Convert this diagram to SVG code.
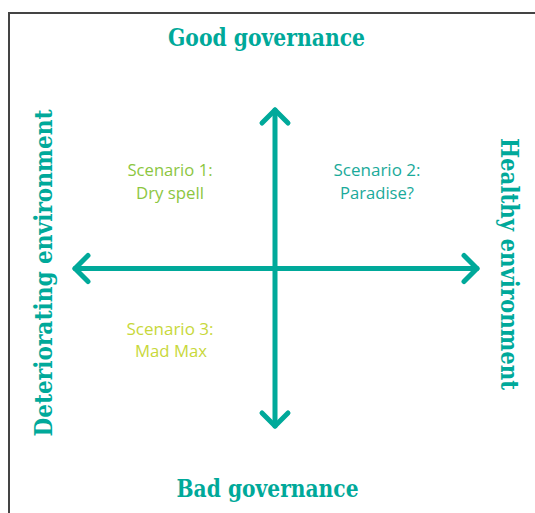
<svg xmlns="http://www.w3.org/2000/svg" width="535" height="513" viewBox="0 0 535 513">
  <style>
    .head { font-family: "DejaVu Serif", "Liberation Serif", serif; font-weight: bold; font-size: 25px; fill: #00A99A; text-anchor: middle; }
    .scen { font-family: "Open Sans", "Liberation Sans", sans-serif; font-weight: 400; font-size: 17px; text-anchor: middle; }
    .axis { fill: none; stroke: #00A99A; stroke-width: 5; stroke-linecap: round; stroke-linejoin: round; }
  </style>
  <rect width="535" height="513" fill="#ffffff"/>
  <path d="M9,513 V13 H535" fill="none" stroke="#444444" stroke-width="2"/>
  <g id="connectors">
    <path class="axis" d="M275,110 V426"/>
    <path class="axis" d="M75,268.5 H477"/>
    <path class="axis" d="M262,123 L275,110 L288,123"/>
    <path class="axis" d="M262,413 L275,426 L288,413"/>
    <path class="axis" d="M88,255.5 L75,268.5 L88,281.5"/>
    <path class="axis" d="M464,255.5 L477,268.5 L464,281.5"/>
  </g>
  <g id="good-governance">
    <text class="head" x="266.5" y="46" textLength="197" lengthAdjust="spacingAndGlyphs">Good governance</text>
  </g>
  <g id="bad-governance">
    <text class="head" x="267.5" y="497" textLength="182" lengthAdjust="spacingAndGlyphs">Bad governance</text>
  </g>
  <g id="deteriorating-environment">
    <text class="head" transform="translate(52,273) rotate(-90)" x="0" y="0" textLength="327" lengthAdjust="spacingAndGlyphs">Deteriorating environment</text>
  </g>
  <g id="healthy-environment">
    <text class="head" transform="translate(501,264) rotate(90)" x="0" y="0" textLength="252" lengthAdjust="spacingAndGlyphs">Healthy environment</text>
  </g>
  <g id="scenario-1">
    <text class="scen" fill="#8CC63F" x="170" y="176" textLength="85" lengthAdjust="spacingAndGlyphs">Scenario 1:</text>
    <text class="scen" fill="#8CC63F" x="170" y="199" textLength="68" lengthAdjust="spacingAndGlyphs">Dry spell</text>
  </g>
  <g id="scenario-2">
    <text class="scen" fill="#1AAA9A" x="377" y="176" textLength="87" lengthAdjust="spacingAndGlyphs">Scenario 2:</text>
    <text class="scen" fill="#1AAA9A" x="377" y="199" textLength="74" lengthAdjust="spacingAndGlyphs">Paradise?</text>
  </g>
  <g id="scenario-3">
    <text class="scen" fill="#C8D83A" x="170" y="334.5" textLength="87" lengthAdjust="spacingAndGlyphs">Scenario 3:</text>
    <text class="scen" fill="#C8D83A" x="171" y="357" textLength="72" lengthAdjust="spacingAndGlyphs">Mad Max</text>
  </g>
</svg>
